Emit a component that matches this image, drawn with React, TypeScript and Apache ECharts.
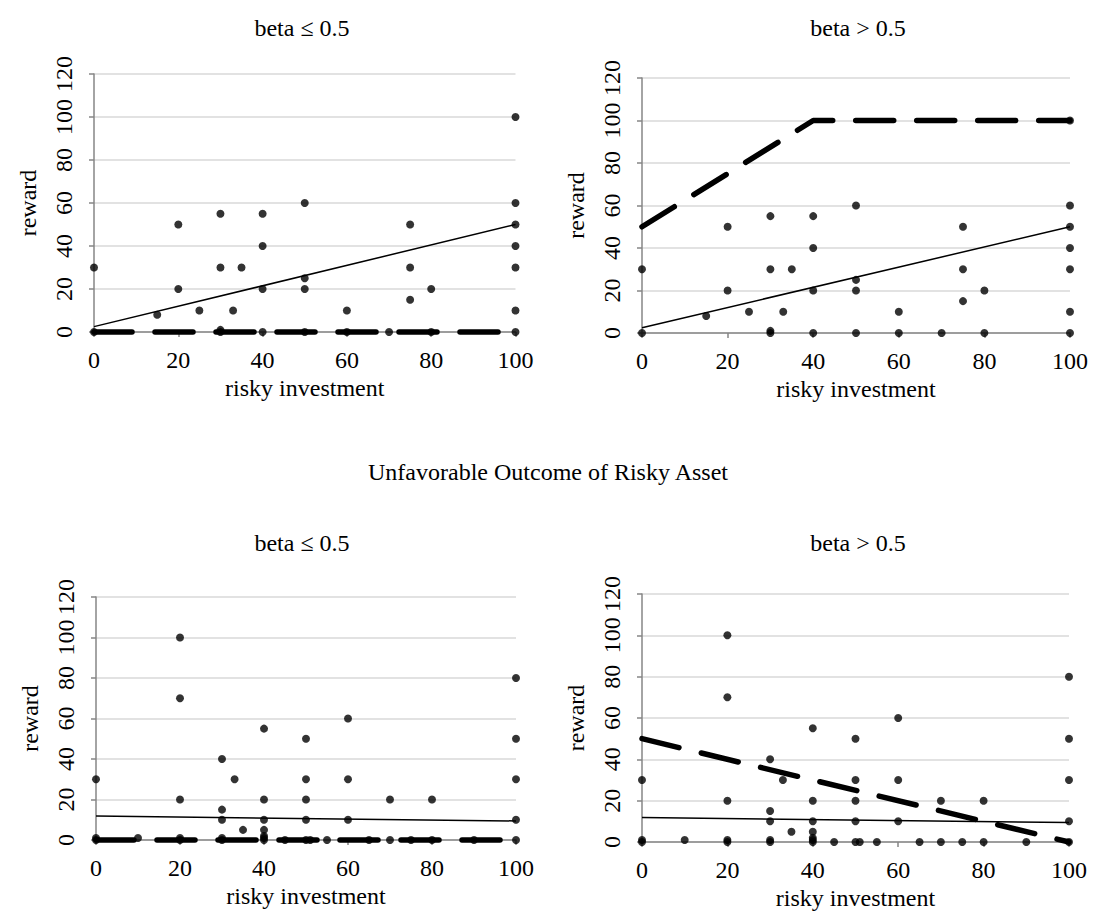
import React, { useEffect, useRef } from "react";
import * as echarts from "echarts";

const panelTitles = ["beta ≤ 0.5", "beta > 0.5", "beta ≤ 0.5", "beta > 0.5"];
const sectionTitle = "Unfavorable Outcome of Risky Asset";
const xAxisName = "risky investment";
const yAxisName = "reward";
const xTicks = [0, 20, 40, 60, 80, 100];
const yTicks = [0, 20, 40, 60, 80, 100, 120];

// Favorable outcome (top panels)
const favInvest = [0, 0, 15, 20, 20, 25, 30, 30, 30, 30, 33, 35, 40, 40, 40, 40, 50, 50, 50, 50, 60, 60, 70, 75, 75, 75, 80, 80, 100, 100, 100, 100, 100, 100, 100];
const favReward = [30, 0, 8, 50, 20, 10, 55, 30, 1, 0, 10, 30, 55, 40, 20, 0, 60, 25, 20, 0, 10, 0, 0, 50, 30, 15, 20, 0, 100, 60, 50, 40, 30, 10, 0];

// Unfavorable outcome (bottom panels)
const unfavInvest = [0, 0, 0, 10, 20, 20, 20, 20, 20, 30, 30, 30, 30, 30, 33, 35, 40, 40, 40, 40, 40, 40, 40, 45, 50, 50, 50, 50, 50, 51, 55, 60, 60, 60, 65, 70, 70, 75, 80, 80, 90, 100, 100, 100, 100, 100];
const unfavReward = [30, 0, 1, 1, 100, 70, 20, 0, 1, 40, 15, 10, 0, 1, 30, 5, 55, 20, 10, 5, 0, 1, 2, 0, 50, 30, 20, 10, 0, 0, 0, 60, 30, 10, 0, 20, 0, 0, 20, 0, 0, 80, 50, 30, 10, 0];

// Fitted trend lines
const trendX = [0, 100];
const favTrendY = [2.5, 50];
const unfavTrendY = [11.8, 9.4];

// Predicted rewards (dashed)
const lowBetaPredX = [0, 100];
const lowBetaPredY = [0, 0];
const favHighPredX = [0, 40, 100];
const favHighPredY = [50, 100, 100];
const unfavHighPredX = [0, 100];
const unfavHighPredY = [50, 0];

const FONT = "'Liberation Serif', 'Times New Roman', serif";

const zip = (xs: number[], ys: number[]) => xs.map((x, i) => [x, ys[i]]);

export default function App() {
  const ref = useRef<HTMLDivElement>(null);
  useEffect(() => {
    if (!ref.current) return;
    const chart = echarts.init(ref.current, undefined, { renderer: "svg" });
    const grids = [
      { left: 94, top: 74, width: 421.5, height: 258 },
      { left: 642, top: 78, width: 428, height: 255 },
      { left: 96, top: 597, width: 420, height: 243 },
      { left: 642, top: 594, width: 427, height: 248 },
    ];
    const axisColor = "#868686";
    const textStyle = { fontFamily: FONT, fontSize: 24, color: "#000" };
    const xAxes = grids.map((_, i) => ({
      gridIndex: i,
      type: "value",
      min: xTicks[0],
      max: xTicks[xTicks.length - 1],
      interval: 20,
      name: xAxisName,
      nameLocation: "middle",
      nameGap: 44,
      nameTextStyle: textStyle,
      axisLine: { show: true, onZero: false, lineStyle: { color: axisColor, width: 1.5 } },
      axisTick: { show: true, length: 5, lineStyle: { color: axisColor, width: 1.5 } },
      axisLabel: { margin: 16, ...textStyle },
      splitLine: { show: false },
    }));
    const yAxes = grids.map((_, i) => ({
      gridIndex: i,
      type: "value",
      min: yTicks[0],
      max: yTicks[yTicks.length - 1],
      interval: 20,
      name: yAxisName,
      nameLocation: "middle",
      nameRotate: 90,
      nameGap: 54,
      nameTextStyle: textStyle,
      axisLine: { show: true, onZero: false, lineStyle: { color: axisColor, width: 1.5 } },
      axisTick: { show: true, length: 5, lineStyle: { color: axisColor, width: 1.5 } },
      axisLabel: { rotate: 90, margin: 18, ...textStyle },
      splitLine: { show: true, lineStyle: { color: "#d9d9d9", width: 1.5 } },
    }));

    const scatter = (i: number, xs: number[], ys: number[]) => ({
      type: "scatter",
      xAxisIndex: i,
      yAxisIndex: i,
      data: zip(xs, ys),
      symbol: "circle",
      symbolSize: 8,
      itemStyle: { color: "#000" },
      clip: false,
      z: 3,
    });
    const trend = (i: number, ys: number[]) => ({
      type: "line",
      xAxisIndex: i,
      yAxisIndex: i,
      data: zip(trendX, ys),
      symbol: "none",
      lineStyle: { color: "#000", width: 1.5 },
      clip: false,
      z: 4,
    });
    const dashed = (i: number, xs: number[], ys: number[]) => ({
      type: "line",
      xAxisIndex: i,
      yAxisIndex: i,
      data: zip(xs, ys),
      symbol: "none",
      lineStyle: { color: "#000", width: 5.5, type: [38, 23], cap: "round" },
      clip: false,
      z: 5,
    });

    const titleCenters = [297, 853, 297, 853];
    const titleTops = [11, 11, 526, 526];
    chart.setOption({
      animation: false,
      backgroundColor: "#fff",
      title: [
        ...panelTitles.map((t, i) => ({
          text: t,
          left: titleCenters[i],
          top: titleTops[i],
          textAlign: "center",
          textStyle: { ...textStyle, fontWeight: "normal" },
        })),
        {
          text: sectionTitle,
          left: 543,
          top: 455,
          textAlign: "center",
          textStyle: { ...textStyle, fontWeight: "normal" },
        },
      ],
      grid: grids,
      xAxis: xAxes,
      yAxis: yAxes,
      series: [
        scatter(0, favInvest, favReward),
        trend(0, favTrendY),
        dashed(0, lowBetaPredX, lowBetaPredY),
        scatter(1, favInvest, favReward),
        trend(1, favTrendY),
        dashed(1, favHighPredX, favHighPredY),
        scatter(2, unfavInvest, unfavReward),
        trend(2, unfavTrendY),
        dashed(2, lowBetaPredX, lowBetaPredY),
        scatter(3, unfavInvest, unfavReward),
        trend(3, unfavTrendY),
        dashed(3, unfavHighPredX, unfavHighPredY),
      ],
    } as any);
    return () => chart.dispose();
  }, []);
  return (
    <div
      ref={ref}
      style={{ position: "absolute", left: 0, top: 0, width: 1093, height: 920, background: "#fff" }}
    />
  );
}
